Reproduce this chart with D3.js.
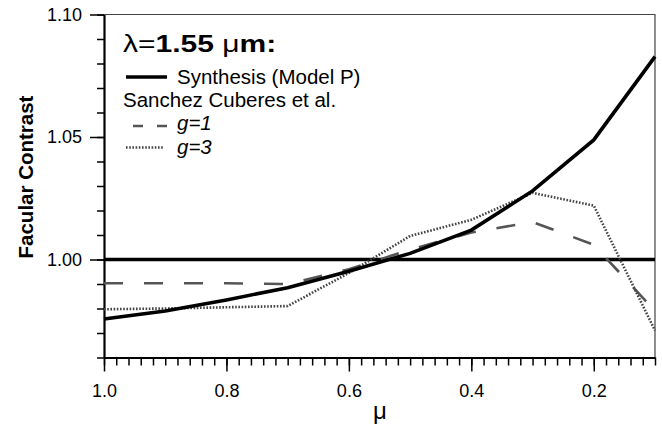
<!DOCTYPE html>
<html>
<head>
    <meta charset="utf-8">
    <style>
        body { margin: 0; background: #fff; }
        svg { font-family: "Liberation Sans", Arial, sans-serif; }
        .axis path, .axis line { stroke: #000; }
        .axis text { font-size: 18px; fill: #000; }
    </style>
</head>
<body>
    <svg width="662" height="434"></svg>

<script src="https://d3js.org/d3.v7.min.js"></script>
<script>
    // values
    const mu = [1.0, 0.9, 0.8, 0.7, 0.6, 0.5, 0.4, 0.3, 0.2, 0.1];
    const synthesis = [0.9757, 0.9790, 0.9835, 0.9885, 0.9952, 1.0025, 1.0120, 1.0280, 1.0488, 1.0828];
    const g1 = [0.9903, 0.9903, 0.9903, 0.9900, 0.9960, 1.0040, 1.0110, 1.0153, 1.0060, 0.9790];
    const g3 = [0.9797, 0.9800, 0.9805, 0.9810, 0.9945, 1.0096, 1.0162, 1.0272, 1.0220, 0.9710];
    const yMajor = [1.00, 1.05, 1.10];
    const xMajor = [1.0, 0.8, 0.6, 0.4, 0.2];

    let svg = d3.select("svg")

    let x = d3.scaleLinear().domain([1.0, 0.1]).range([104, 655])
    let y = d3.scaleLinear().domain([0.96, 1.10]).range([357.5, 14.5])

    // frame (top and right)
    svg.append("path")
        .attr("d", `M${x(1.0)},${y(1.10)}H${x(0.1)}V${y(0.96)}`)
        .attr("fill", "none")
        .attr("stroke", "#444")
        .attr("stroke-width", 1.2)

    // y axis
    let yMinor = d3.range(96, 111).map(d => d / 100)
    svg.append("g")
        .attr("class", "axis")
        .attr("transform", `translate(${x(1.0)},0)`)
        .call(d3.axisLeft(y).tickValues(yMinor).tickSize(7).tickFormat(""))
        .call(g => g.select(".domain").remove())
        .selectAll("line").attr("stroke-width", 1.5)
    svg.append("g")
        .attr("class", "axis")
        .attr("transform", `translate(${x(1.0)},0)`)
        .call(d3.axisLeft(y).tickValues(yMajor).tickSize(14).tickSizeOuter(0).tickPadding(8).tickFormat(d3.format(".2f")))
        .call(g => g.select(".domain").attr("stroke-width", 2.2))
        .call(g => g.selectAll("line").attr("stroke-width", 1.5))

    // x axis
    let xMinor = d3.range(10, 101, 2).map(d => d / 100)
    svg.append("g")
        .attr("class", "axis")
        .attr("transform", `translate(0,${y(0.96)})`)
        .call(d3.axisBottom(x).tickValues(xMinor).tickSize(8).tickFormat(""))
        .call(g => g.select(".domain").remove())
        .selectAll("line").attr("stroke-width", 1.5)
    svg.append("g")
        .attr("class", "axis")
        .attr("transform", `translate(0,${y(0.96)})`)
        .call(d3.axisBottom(x).tickValues(xMajor).tickSize(14).tickSizeOuter(0).tickPadding(13).tickFormat(d3.format(".1f")))
        .call(g => g.select(".domain").attr("stroke-width", 2.2))
        .call(g => g.selectAll("line").attr("stroke-width", 1.5))

    // axis titles
    svg.append("text")
        .attr("transform", "translate(33,177) rotate(-90)")
        .attr("text-anchor", "middle")
        .style("font-size", "20.5px")
        .style("font-weight", "bold")
        .text("Facular Contrast")

    svg.append("text")
        .attr("x", 380)
        .attr("y", 419)
        .attr("text-anchor", "middle")
        .style("font-size", "24px")
        .text("μ")

    // reference line at 1.00
    svg.append("line")
        .attr("x1", x(1.0)).attr("x2", x(0.1))
        .attr("y1", y(1.0)).attr("y2", y(1.0))
        .attr("stroke", "#000")
        .attr("stroke-width", 3.5)

    let line = d3.line()
        .x((d, i) => x(mu[i]))
        .y(d => y(d))

    svg.append("path")
        .datum(g1)
        .attr("d", line)
        .attr("fill", "none")
        .attr("stroke", "#555")
        .attr("stroke-width", 2.6)
        .attr("stroke-dasharray", "19,21")

    svg.append("path")
        .datum(g3)
        .attr("d", line)
        .attr("fill", "none")
        .attr("stroke", "#444")
        .attr("stroke-width", 2.6)
        .attr("stroke-dasharray", "1.6,1.6")

    svg.append("path")
        .datum(synthesis)
        .attr("d", line)
        .attr("fill", "none")
        .attr("stroke", "#000")
        .attr("stroke-width", 3.6)

    // legend
    let title = svg.append("text")
        .attr("transform", "translate(123,52) scale(1.25,1)")
        .style("font-size", "24px")
    title.append("tspan").text("λ=")
    title.append("tspan").style("font-weight", "bold").text("1.55 ")
    title.append("tspan").text("μ")
    title.append("tspan").style("font-weight", "bold").text("m:")

    svg.append("line")
        .attr("x1", 126).attr("x2", 167).attr("y1", 77).attr("y2", 77)
        .attr("stroke", "#000").attr("stroke-width", 3.5)
    svg.append("text")
        .attr("x", 177).attr("y", 84)
        .style("font-size", "20.5px")
        .text("Synthesis (Model P)")

    svg.append("text")
        .attr("x", 123).attr("y", 107)
        .style("font-size", "20.5px")
        .text("Sanchez Cuberes et al.")

    svg.append("line")
        .attr("x1", 133).attr("x2", 167).attr("y1", 126).attr("y2", 126)
        .attr("stroke", "#555").attr("stroke-width", 2.6)
        .attr("stroke-dasharray", "10,14")
    svg.append("text")
        .attr("x", 177).attr("y", 130)
        .style("font-size", "20.5px")
        .style("font-style", "italic")
        .text("g=1")

    svg.append("line")
        .attr("x1", 126).attr("x2", 164).attr("y1", 147.5).attr("y2", 147.5)
        .attr("stroke", "#444").attr("stroke-width", 2.6)
        .attr("stroke-dasharray", "1.6,1.6")
    svg.append("text")
        .attr("x", 177).attr("y", 153.5)
        .style("font-size", "20.5px")
        .style("font-style", "italic")
        .text("g=3")
</script>
</body>
</html>
